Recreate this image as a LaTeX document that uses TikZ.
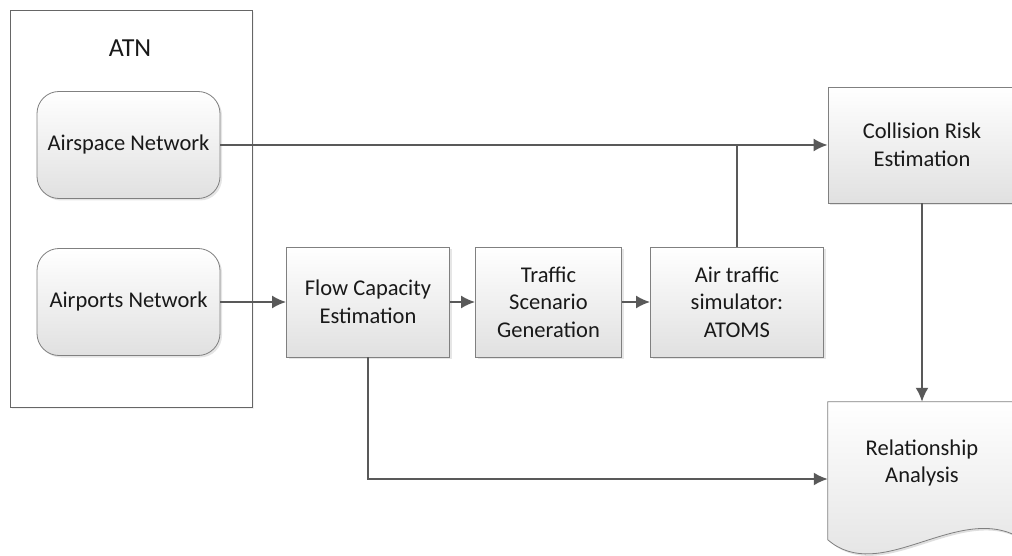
\documentclass[tikz,border=0pt]{standalone}
\usepackage{fontspec}
\setmainfont{Carlito}
\usepackage{xcolor}
\usepackage{tikz}
\usetikzlibrary{shadows,arrows.meta}

\definecolor{linegray}{RGB}{89,89,89}
\definecolor{boxgray}{RGB}{128,128,128}

\begin{document}
\begin{tikzpicture}[x=1pt, y=-1pt,
    every node/.style={font=\fontsize{22.5}{27.5}\selectfont, text=black!90, align=center},
    box/.style={draw=boxgray, line width=0.8pt, top color=white, bottom color=black!12,
        drop shadow={shadow xshift=2pt, shadow yshift=-2pt, opacity=0.2}},
    netbox/.style={box, rounded corners=22pt, minimum width=183pt, minimum height=107pt},
    stepbox/.style={box, minimum height=110pt},
    conn/.style={draw=linegray, line width=2pt},
    arr/.style={conn, -{Latex[length=14pt, width=13pt]}}]
    \useasboundingbox (0,0) rectangle (1012,556);

    % ATN container
    \node[draw=black!60, fill=white, line width=0.8pt, minimum width=242pt, minimum height=397pt,
        drop shadow={shadow xshift=2pt, shadow yshift=-2pt, opacity=0.1}] (atn) at (131,208.5) {};
    \node[font=\fontsize{26}{30}\selectfont] (atnlabel) at (130,48) {ATN};
    \node[netbox] (airspace) at (128.5,145) {Airspace Network};
    \node[netbox] (airports) at (128.5,302) {Airports Network};

    % processing chain
    \node[stepbox, minimum width=163pt] (flow) at (368,302) {Flow Capacity\\Estimation};
    \node[stepbox, minimum width=146pt] (traffic) at (548.5,302) {Traffic\\Scenario\\Generation};
    \node[stepbox, minimum width=173pt] (sim) at (737,302) {Air traffic\\simulator:\\ATOMS};
    \node[stepbox, minimum width=188pt, minimum height=116pt] (risk) at (922,145) {Collision Risk\\Estimation};

    % document shape
    \node[minimum width=188pt, minimum height=122pt] (rel) at (922,463) {};
    \fill[black!25, opacity=0.5] ([shift={(2pt,-2pt)}]rel.north west) -- ([shift={(2pt,-2pt)}]rel.north east)
        -- ++(0,134) .. controls +(-61,-31) and +(52,45) .. ([shift={(2pt,-140pt)}]rel.north west) -- cycle;
    \path[draw=boxgray, line width=0.8pt, top color=white, bottom color=black!12]
        (rel.north west) -- (rel.north east) -- ++(0,134)
        .. controls +(-61,-31) and +(52,45) .. ([yshift=-138pt]rel.north west) -- cycle;
    \node (reltext) at (rel.center) {Relationship\\Analysis};

    % connectors
    \draw[arr] (airspace.east) -- (risk.west);
    \draw[conn] (sim.north) -- (sim.north |- airspace.east);
    \draw[arr] (airports.east) -- (flow.west);
    \draw[arr] (flow.east) -- (traffic.west);
    \draw[arr] (traffic.east) -- (sim.west);
    \draw[arr] (flow.south) -- (flow.south |- 0,479) -- (rel.west |- 0,479);
    \draw[arr] (risk.south) -- (rel.north);
\end{tikzpicture}
\end{document}
